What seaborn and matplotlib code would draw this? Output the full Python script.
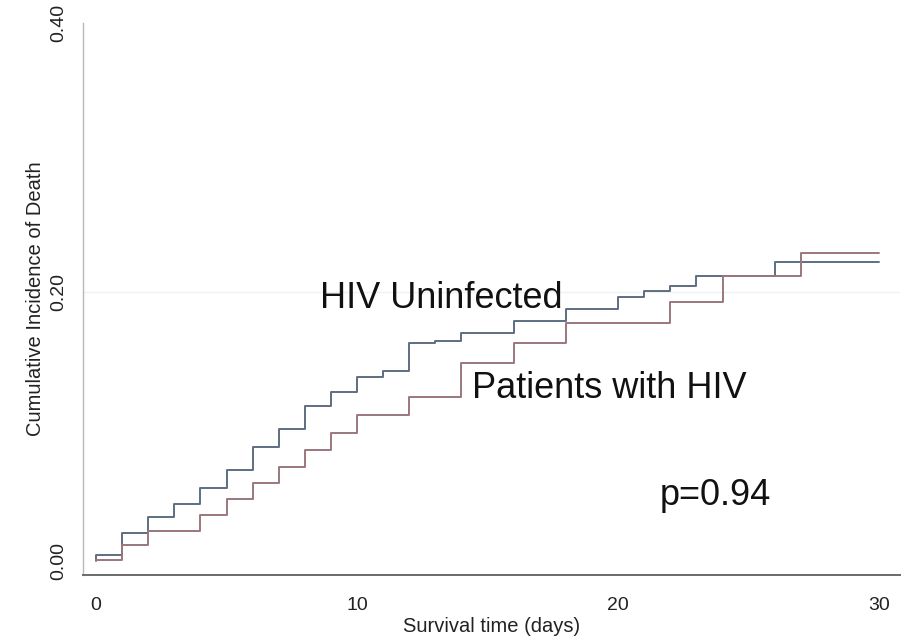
import matplotlib
matplotlib.use("Agg")
import matplotlib.pyplot as plt
import seaborn as sns
import pandas as pd

# Step times (days) and cumulative incidence values
uninf_times = [0, 0, 1, 2, 3, 4, 5, 6, 7, 8, 9, 10, 11, 12, 13, 14, 16, 18, 20, 21, 22, 23, 26, 30]
uninf_cif = [0.0, 0.0045, 0.0208, 0.0327, 0.0424, 0.0543, 0.0677, 0.0848, 0.0981, 0.1152,
             0.1257, 0.1368, 0.1413, 0.1621, 0.1636, 0.1695, 0.1784, 0.1874, 0.1963, 0.2007,
             0.2045, 0.2119, 0.2223, 0.2223]

hiv_times = [0, 1, 2, 4, 5, 6, 7, 8, 9, 10, 12, 14, 16, 18, 22, 24, 27, 30]
hiv_cif = [0.0007, 0.0119, 0.0223, 0.0342, 0.0461, 0.058, 0.0699, 0.0825, 0.0952, 0.1086,
           0.1219, 0.1472, 0.1621, 0.1770, 0.1926, 0.2119, 0.2290, 0.2290]

groups = ["HIV Uninfected", "Patients with HIV"]
x_ticks = [0, 10, 20, 30]
y_ticks = [0.0, 0.20, 0.40]
y_tick_labels = ["0.00", "0.20", "0.40"]
p_text = "p=0.94"

df = pd.concat([
    pd.DataFrame({"time": uninf_times, "cif": uninf_cif, "group": groups[0]}),
    pd.DataFrame({"time": hiv_times, "cif": hiv_cif, "group": groups[1]}),
], ignore_index=True)

sns.set_style("white")
plt.rcParams["font.family"] = ["Liberation Sans", "DejaVu Sans"]

fig = plt.figure(figsize=(9.13, 6.40), dpi=100)
ax = fig.add_axes([0.0909, 0.1016, 0.8949, 0.8624])

palette = {groups[0]: "#5f6e82", groups[1]: "#9a777c"}
sns.lineplot(data=df, x="time", y="cif", hue="group", palette=palette,
             drawstyle="steps-post", estimator=None, sort=True, legend=False,
             linewidth=1.4, ax=ax)

ax.set_xlim(-0.5, 30.8)
ax.set_ylim(-0.0104, 0.40)

# faint inner gridline(s)
for yv in y_ticks[1:-1]:
    ax.axhline(yv, color="#eef2f4", linewidth=1.0, zorder=0)

ax.set_xticks(x_ticks)
ax.set_xticklabels([str(v) for v in x_ticks])
ax.set_yticks(y_ticks)
ax.set_yticklabels(y_tick_labels, rotation=90, va="center")

ax.tick_params(axis="both", direction="out", length=7, width=1.0, color="#707070",
               labelsize=14, labelcolor="#222222")
ax.tick_params(axis="x", pad=9)
ax.tick_params(axis="y", pad=6, length=5)

for s in ["top", "right"]:
    ax.spines[s].set_visible(False)
ax.spines["left"].set_color("#b8b8b8")
ax.spines["bottom"].set_color("#6a6a6a")
ax.spines["left"].set_linewidth(1.0)
ax.spines["bottom"].set_linewidth(1.4)

ax.set_xlabel("Survival time (days)", fontsize=14.5, color="#222222", labelpad=2)
ax.set_ylabel("Cumulative Incidence of Death", fontsize=14.5, color="#222222", labelpad=4)

ax.text(8.57, 0.188, groups[0], fontsize=26, color="#111111", va="baseline", ha="left")
ax.text(14.39, 0.121, groups[1], fontsize=26, color="#111111", va="baseline", ha="left")
ax.text(21.58, 0.0416, p_text, fontsize=26, color="#111111", va="baseline", ha="left")

fig.savefig("out.png", dpi=100)
